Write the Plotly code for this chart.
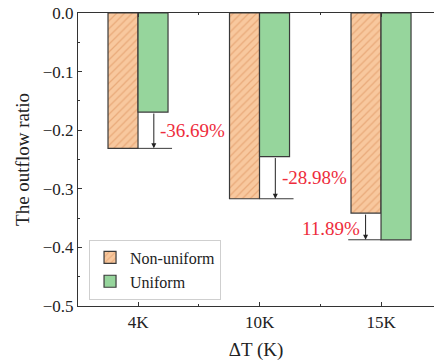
import plotly.graph_objects as go

categories = ["4K", "10K", "15K"]
non_uniform = [-0.231, -0.317, -0.3415]
uniform = [-0.169, -0.245, -0.387]
pct_labels = ["-36.69%", "-28.98%", "11.89%"]
y_ticks = [0.0, -0.1, -0.2, -0.3, -0.4, -0.5]

xpos = list(range(len(categories)))
FONT = "Times New Roman, Liberation Serif, DejaVu Serif, serif"
OUT = "#3a3a3a"
RED = "#EE2C3C"

fig = go.Figure()
fig.add_trace(go.Bar(
    x=xpos, y=non_uniform, name="Non-uniform",
    marker=dict(color="#F8C89E", line=dict(color=OUT, width=1.2),
                pattern=dict(shape="/", fgcolor="#D98B55", size=5.5, solidity=0.22,
                             fillmode="overlay")),
))
fig.add_trace(go.Bar(
    x=xpos, y=uniform, name="Uniform",
    marker=dict(color="#96D59C", line=dict(color=OUT, width=1.2)),
))

shapes = []
annotations = []
for i in range(len(categories)):
    a, b = non_uniform[i], uniform[i]
    lo, hi = min(a, b), max(a, b)
    if a < b:
        x0, x1 = i, i + 0.28
        ax = i + 0.13
        annotations.append(dict(x=i + 0.165, y=(hi + lo) / 2, text=pct_labels[i],
                                xref="x", yref="y", showarrow=False, xanchor="left",
                                font=dict(family=FONT, size=19, color=RED)))
    else:
        x0, x1 = i - 0.27, i
        ax = i - 0.127
        annotations.append(dict(x=i - 0.16, y=lo + 0.019, text=pct_labels[i],
                                xref="x", yref="y", showarrow=False, xanchor="right",
                                font=dict(family=FONT, size=19, color=RED)))
    shapes.append(dict(type="line", xref="x", yref="y", x0=x0, x1=x1, y0=lo, y1=lo,
                       line=dict(color=OUT, width=1)))
    annotations.append(dict(x=ax, y=lo, ax=ax, ay=hi, xref="x", yref="y",
                            axref="x", ayref="y", text="", showarrow=True,
                            arrowhead=2, arrowsize=1, arrowwidth=1, arrowcolor="#222",
                            standoff=0, startstandoff=0))

fig.update_layout(
    width=434, height=362,
    margin=dict(l=78, r=0, t=13, b=56),
    paper_bgcolor="white", plot_bgcolor="white",
    barmode="group", bargap=0.506, bargroupgap=0,
    font=dict(family=FONT, size=17, color="#222"),
    shapes=shapes, annotations=annotations,
    showlegend=True,
    legend=dict(x=0.031, y=0.022, xanchor="left", yanchor="bottom",
                bgcolor="white", bordercolor="#cfcfcf", borderwidth=1,
                font=dict(family=FONT, size=16, color="#222"),
                tracegroupgap=0, itemwidth=30),
)
fig.update_xaxes(
    range=[-0.494, 2.436], tickvals=xpos, ticktext=categories,
    showline=True, linecolor="#333", linewidth=1.2, mirror="allticks",
    ticks="inside", ticklen=4, tickcolor="#333", showgrid=False, zeroline=False,
    minor=dict(tickvals=[0.5, 1.5], ticks="inside", ticklen=2, tickcolor="#333"),
    tickfont=dict(family=FONT, size=17),
    title=dict(text="ΔT (K)", font=dict(family=FONT, size=19), standoff=12),
)
fig.update_yaxes(
    range=[-0.5, 0], tickvals=y_ticks, tickformat=".1f",
    showline=True, linecolor="#333", linewidth=1.2, mirror=False,
    ticks="inside", ticklen=4, tickcolor="#333", showgrid=False, zeroline=False,
    minor=dict(dtick=0.05, ticks="inside", ticklen=2, tickcolor="#333"),
    tickfont=dict(family=FONT, size=17),
    title=dict(text="The outflow ratio", font=dict(family=FONT, size=19), standoff=8),
)
fig.write_html("out.html")
